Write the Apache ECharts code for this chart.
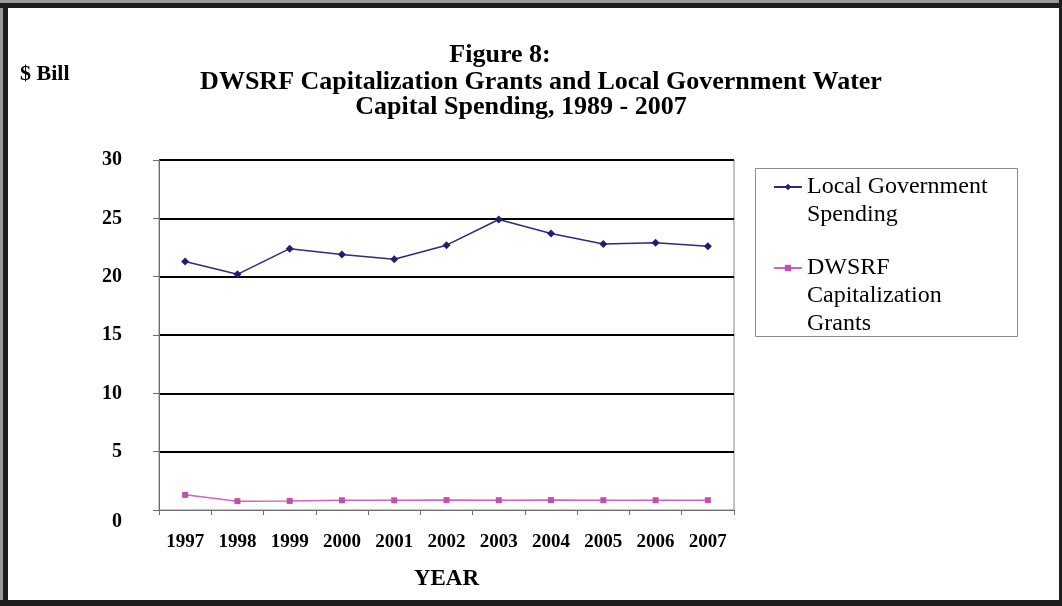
<!DOCTYPE html>
<html>
<head>
<meta charset="utf-8">
<script src="https://cdn.jsdelivr.net/npm/echarts@6/dist/echarts.min.js"></script>
<style>
  html, body { margin: 0; padding: 0; background: #fff; }
  #chart { width: 1062px; height: 606px; }
</style>
</head>
<body>
<div id="chart"></div>
<script>
// Years on the category axis
var years = ['1997', '1998', '1999', '2000', '2001', '2002', '2003', '2004', '2005', '2006', '2007'];
// Local government water capital spending, $ billions
var localSpending = [21.3, 20.2, 22.4, 21.9, 21.5, 22.7, 24.9, 23.7, 22.8, 22.9, 22.6];
// DWSRF capitalization grants, $ billions
var dwsrfGrants = [1.3, 0.76, 0.78, 0.83, 0.83, 0.85, 0.84, 0.85, 0.84, 0.84, 0.84];
// Series names (shown in the legend)
var seriesNames = ['Local Government\nSpending', 'DWSRF\nCapitalization\nGrants'];
// Title lines
var titleLines = ['Figure 8:', 'DWSRF Capitalization Grants and Local Government Water', 'Capital Spending, 1989 - 2007'];

var SERIF = "'Liberation Serif', 'Times New Roman', serif";
var LEG_LH = 28;

var chart = echarts.init(document.getElementById('chart'), null, { renderer: 'canvas' });

// Legend text is centred on its icon; leading blank lines keep the icon
// level with the first line of a multi-line name.
function legendFormatter(name) {
  var n = name.split('\n').length;
  return new Array(n).join('\n') + name;
}

var legendCommon = {
  orient: 'vertical',
  left: 773,
  padding: 0,
  itemWidth: 28,
  itemHeight: 8,
  itemGap: 0,
  formatter: legendFormatter,
  textStyle: { fontFamily: SERIF, fontSize: 24, color: '#000', lineHeight: LEG_LH }
};

chart.setOption({
  backgroundColor: '#fff',
  animation: false,
  title: [
    { text: titleLines[0], left: 500, top: 42, textAlign: 'center', padding: 0,
      textStyle: { fontFamily: SERIF, fontSize: 26, fontWeight: 'bold', color: '#000' } },
    { text: titleLines[1], left: 541, top: 69, textAlign: 'center', padding: 0,
      textStyle: { fontFamily: SERIF, fontSize: 26, fontWeight: 'bold', color: '#000' } },
    { text: titleLines[2], left: 521, top: 94, textAlign: 'center', padding: 0,
      textStyle: { fontFamily: SERIF, fontSize: 26, fontWeight: 'bold', color: '#000' } },
    { text: '$ Bill', left: 20, top: 63, padding: 0,
      textStyle: { fontFamily: SERIF, fontSize: 22, fontWeight: 'bold', color: '#000' } }
  ],
  legend: [
    Object.assign({}, legendCommon, { top: 145, data: [seriesNames[0]] }),
    Object.assign({}, legendCommon, { top: 198, data: [seriesNames[1]] })
  ],
  grid: {
    left: 159, right: 328, top: 160, bottom: 96,
    show: true, borderColor: '#8a8a8a', borderWidth: 1, backgroundColor: 'transparent'
  },
  xAxis: {
    type: 'category',
    data: years,
    boundaryGap: true,
    name: 'YEAR',
    nameLocation: 'middle',
    nameGap: 58,
    nameTextStyle: { fontFamily: SERIF, fontSize: 23, fontWeight: 'bold', color: '#000' },
    axisLine: { lineStyle: { color: '#6e6e6e', width: 1 } },
    axisTick: { show: true, length: 5, lineStyle: { color: '#6e6e6e' } },
    axisLabel: { margin: 23, fontFamily: SERIF, fontSize: 19, fontWeight: 'bold', color: '#000' }
  },
  yAxis: {
    type: 'value',
    min: 0, max: 30, interval: 5,
    axisLine: { show: true, lineStyle: { color: '#6e6e6e', width: 1 } },
    axisTick: { show: true, length: 6, lineStyle: { color: '#6e6e6e' } },
    axisLabel: {
      margin: 37, fontFamily: SERIF, fontSize: 20, fontWeight: 'bold', color: '#000', lineHeight: 24,
      formatter: function (v) { return v === 0 ? '\n0' : String(v); }
    },
    splitLine: { show: true, showMinLine: false, lineStyle: { color: '#000', width: 2 } }
  },
  series: [
    {
      name: seriesNames[0],
      type: 'line',
      data: localSpending,
      symbol: 'diamond',
      symbolSize: 8,
      lineStyle: { color: '#2b2b80', width: 1.5 },
      itemStyle: { color: '#1f1f70' },
      z: 3
    },
    {
      name: seriesNames[1],
      type: 'line',
      data: dwsrfGrants,
      symbol: 'rect',
      symbolSize: 6,
      lineStyle: { color: '#cc66b8', width: 1.5 },
      itemStyle: { color: '#c24fa9' },
      z: 3
    }
  ],
  graphic: [
    // legend frame
    { type: 'rect', shape: { x: 755.5, y: 168.5, width: 262, height: 168 },
      style: { fill: null, stroke: '#8a8a8a', lineWidth: 1 }, z: -1 },
    // outer frame of the figure
    { type: 'rect', shape: { x: 0, y: 0, width: 1062, height: 3 }, style: { fill: '#9a9a9a' }, z: 10 },
    { type: 'rect', shape: { x: 0, y: 0, width: 3, height: 606 }, style: { fill: '#9a9a9a' }, z: 10 },
    { type: 'rect', shape: { x: 0, y: 3, width: 1062, height: 5 }, style: { fill: '#1e1e1e' }, z: 10 },
    { type: 'rect', shape: { x: 3, y: 3, width: 5, height: 603 }, style: { fill: '#1e1e1e' }, z: 10 },
    { type: 'rect', shape: { x: 1059, y: 0, width: 3, height: 606 }, style: { fill: '#1e1e1e' }, z: 10 },
    { type: 'rect', shape: { x: 0, y: 600, width: 1062, height: 6 }, style: { fill: '#1e1e1e' }, z: 10 }
  ]
});
</script>
</body>
</html>
